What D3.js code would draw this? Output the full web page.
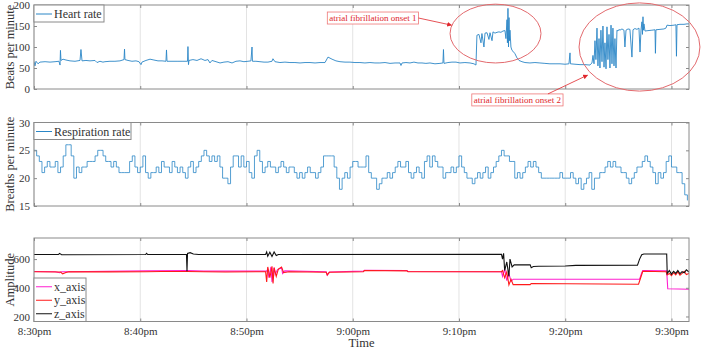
<!DOCTYPE html>
<html><head><meta charset="utf-8">
<script src="https://cdn.jsdelivr.net/npm/d3@7"></script>
<style>body{margin:0;background:#fff}svg{display:block;font-family:"Liberation Serif","Times New Roman",serif}</style>
</head><body><svg id="c" width="708" height="350"></svg>
<script>
// ---------- DATA (time = minutes after 8:30pm) ----------
const xTickMinutes = [0, 10, 20, 30, 40, 50, 60];
const xTickLabels = ["8:30pm", "8:40pm", "8:50pm", "9:00pm", "9:10pm", "9:20pm", "9:30pm"];
const timeEnd = 61.65;

const hrTicks = [0, 50, 100, 150, 200];
const respTicks = [15, 20, 25, 30];
const accTicks = [200, 400, 600];

const heartRate = [
 [0.00,65],[0.09,55],[0.19,66],[0.38,60],[0.56,64],[1.04,65],[1.51,64],[1.98,65],[2.35,66],[2.45,57],[2.49,92],[2.54,68],
 [2.73,71],[3.01,69],[3.39,67],[3.86,66],[4.33,68],[4.42,94],[4.52,67],[4.89,68],[5.27,67],[5.74,68],[5.93,63],[6.21,66],
 [6.49,64],[6.68,65],[7.15,66],[7.62,66],[8.09,67],[8.47,70],[8.52,95],[8.56,70],[8.85,68],[9.22,66],[9.60,67],[9.88,65],
 [10.07,58],[10.16,64],[10.54,68],[10.92,71],[11.29,69],[11.67,67],[12.05,67],[12.42,66],[12.47,93],[12.52,66],[12.99,66],
 [13.55,66],[14.02,66],[14.45,66],[14.49,101],[14.54,58],[14.59,68],[14.96,70],[15.34,68],[15.72,72],[16.09,68],[16.38,70],
 [16.56,62],[16.75,68],[17.13,65],[17.51,62],[17.88,64],[18.26,65],[18.64,62],[19.01,66],[19.39,67],[19.76,65],[20.14,66],
 [20.42,67],[20.52,100],[20.56,66],[20.89,66],[21.27,65],[21.65,64],[22.02,64],[22.40,66],[22.49,72],[22.68,65],[23.15,63],
 [23.62,64],[24.09,63],[24.56,63],[25.04,62],[25.51,63],[25.98,63],[26.45,62],[26.92,63],[27.39,63],[27.67,76],[28.05,71],
 [28.42,67],[28.80,65],[29.27,64],[29.74,64],[30.21,63],[30.68,63],[31.15,62],[31.62,63],[32.09,62],[32.56,62],[33.04,63],
 [33.51,61],[33.98,62],[34.45,62],[34.54,56],[34.64,62],[35.01,63],[35.39,62],[35.76,64],[36.14,62],[36.52,62],[36.89,61],
 [37.27,62],[37.74,60],[38.21,61],[38.49,62],[38.54,94],[38.59,61],[38.96,63],[39.34,64],[39.72,64],[40.09,62],[40.56,63],
 [41.04,62],[41.41,60],[41.60,57],[41.69,128],[41.88,130],[42.07,110],[42.16,132],[42.35,100],[42.45,133],[42.64,134],
 [42.82,118],[42.92,134],[43.11,115],[43.20,136],[43.39,133],[43.58,135],[43.76,136],[43.95,135],[44.14,138],[44.33,139],
 [44.42,120],[44.52,165],[44.56,110],[44.61,192],[44.66,100],[44.71,170],[44.75,115],[44.80,140],[44.89,100],[44.99,92],
 [45.08,90],[45.27,84],[45.46,74],[45.65,68],[45.93,65],[46.21,63],[46.68,62],[47.15,63],[47.62,62],[48.09,61],[48.56,60],
 [49.04,60],[49.51,60],[49.98,59],[50.35,60],[50.45,86],[50.49,60],[50.92,59],[51.39,58],[51.86,58],[52.33,57],[52.42,60],
 [52.52,62],[52.61,80],[52.71,60],[52.80,115],[52.89,70],[52.99,145],[53.08,55],[53.18,120],[53.27,50],[53.36,140],[53.46,65],
 [53.55,150],[53.65,52],[53.74,110],[53.84,48],[53.93,148],[54.02,70],[54.12,130],[54.21,50],[54.31,152],[54.40,60],[54.49,145],
 [54.59,55],[54.68,120],[54.78,50],[54.87,140],[54.96,138],[55.06,142],[55.15,140],[55.34,143],[55.53,140],[55.62,100],
 [55.72,140],[55.91,143],[56.09,142],[56.28,76],[56.38,141],[56.56,144],[56.75,142],[56.94,145],[57.04,88],[57.13,140],
 [57.22,160],[57.27,130],[57.32,172],[57.36,140],[57.41,155],[57.51,138],[57.79,139],[58.16,140],[58.45,141],[58.49,85],
 [58.54,141],[58.92,142],[59.29,143],[59.48,145],[59.58,152],[59.86,151],[60.24,152],[60.42,153],[60.47,78],[60.52,153],
 [60.80,154],[61.18,154],[61.46,155],[61.65,155]
];

const respStep = 0.25; // minutes between respiration samples
const respRate = [
 25,24,23,21,22,23,22,22,23,21,22,24,26,26,24,20,22,21,22,22,
 23,23,23,24,25,25,24,23,23,22,23,22,21,21,21,21,23,24,22,21,
 22,24,21,20,21,21,22,21,23,22,22,21,23,22,21,22,21,20,22,23,
 21,22,23,24,25,24,23,24,23,24,22,20,20,19,22,24,24,22,24,22,
 23,21,20,24,25,23,21,22,23,22,22,21,22,23,22,21,22,22,21,20,
 21,20,21,22,21,21,20,21,22,24,24,24,24,22,20,18,20,21,20,22,
 23,23,22,22,22,24,21,20,20,18,19,20,20,21,20,21,22,23,22,22,
 23,21,20,21,22,21,20,23,24,22,24,23,22,22,20,21,21,22,21,22,
 24,22,21,20,20,19,20,21,20,21,22,20,21,22,23,24,25,24,24,23,
 23,20,21,20,21,22,23,22,23,22,21,20,20,20,20,20,20,20,21,20,
 20,20,21,20,19,20,18,19,20,21,18,20,20,21,21,22,23,22,23,22,
 22,21,21,20,19,20,21,22,22,23,24,23,22,21,19,21,20,21,23,24,
 22,22,21,21,19,17,16
];

const accX = [
 [0,514],[2.0,512],[2.4,505],[2.6,512],[5,513],[10.6,518],[14.4,520],[16,516],[21.9,516],[22.0,530],[22.1,470],[22.3,545],
 [22.4,440],[22.6,540],[22.7,495],[22.9,525],[23.3,540],[23.4,500],[23.6,518],[27.5,512],[27.6,488],[27.8,510],[31,516],
 [31.1,522],[35.1,520],[35.2,514],[44.0,512],[44.1,480],[44.3,530],[44.5,450],[44.7,500],[44.9,445],[45.1,460],[57.0,460],
 [57.2,505],[57.3,520],[59.55,518],[59.65,393],[61.65,390]
];
const accY = [
 [0,512],[2.5,510],[2.7,497],[3.0,506],[3.3,512],[7,511],[10.5,512],[12,514],[14.4,513],[16,512],[18,510],[21.8,512],
 [21.9,440],[22.0,545],[22.2,470],[22.4,550],[22.5,430],[22.6,540],[22.8,480],[23.0,530],[23.3,545],[23.5,505],[24.0,512],
 [27.5,508],[27.6,490],[27.8,508],[31.0,512],[31.1,520],[35.1,518],[35.2,512],[44.0,512],[44.1,520],[44.3,470],[44.5,510],
 [44.7,420],[44.9,460],[45.1,422],[46.7,422],[46.8,430],[56.9,425],[57.1,470],[57.3,515],[59.5,512],[59.6,490],[59.8,500],
 [60.0,485],[60.2,505],[60.4,490],[60.6,510],[60.8,488],[61.0,500],[61.2,515],[61.4,492],[61.65,500]
];
const accZ = [
 [0,632],[2.3,632],[2.4,640],[2.6,630],[10.5,632],[10.6,640],[10.7,632],[14.35,632],[14.4,515],[14.45,640],[14.7,645],
 [15.0,636],[15.5,632],[21.8,632],[21.9,650],[22.0,620],[22.2,648],[22.4,618],[22.6,650],[22.8,625],[23.0,632],[44.0,633],
 [44.1,600],[44.2,640],[44.3,520],[44.5,580],[44.7,480],[44.8,600],[45.0,545],[45.2,560],[46.7,560],[46.8,540],[47.0,548],
 [47.5,550],[50,552],[51,556],[56.8,557],[57.0,600],[57.2,630],[57.4,635],[59.55,635],[59.6,500],[59.8,520],[60.0,495],
 [60.2,515],[60.4,500],[60.6,520],[60.8,498],[61.0,512],[61.2,505],[61.4,525],[61.65,510]
];

const afNotes = [
 {text: "atrial fibrillation onset 1", t: 31.9, v: 169, ex: 43.44, ev: 132, erx: 4.28, erv: 70, at: 39.3, av: 152, side: "right"},
 {text: "atrial fibrillation onset 2", t: 45.5, v: -26, ex: 56.99, ev: 100, erx: 5.69, erv: 105, at: 52.1, av: 33, side: "top"}
];

// ---------- LAYOUT ----------
const svg = d3.select("#c");
const L = 34, R = 689;
const x = d3.scaleLinear().domain([0, timeEnd]).range([L, R]);
const boxColor = "#8a8a8a", textColor = "#333";
const blue = "#2a86c6";

const panels = [
 {top: 5, bottom: 89, domain: [0, 200], ticks: hrTicks, label: "Beats per minute"},
 {top: 122.5, bottom: 206, domain: [15, 30], ticks: respTicks, label: "Breaths per minute"},
 {top: 238, bottom: 321.5, domain: [165, 747], ticks: accTicks, label: "Amplitude"}
];

const defs = svg.append("defs");
panels.forEach((p, i) => {
  p.y = d3.scaleLinear().domain(p.domain).range([p.bottom, p.top]);
  defs.append("clipPath").attr("id", "clip" + i).append("rect")
    .attr("x", L).attr("y", p.top).attr("width", R - L).attr("height", p.bottom - p.top);
  const g = svg.append("g");
  p.g = g;
  // grid
  g.selectAll(".grid").data(xTickMinutes).join("line")
    .attr("x1", d => x(d)).attr("x2", d => x(d)).attr("y1", p.top).attr("y2", p.bottom)
    .attr("stroke", "#e3e3e3").attr("stroke-width", 1);
});

function styleAxis(sel, showText) {
  sel.select(".domain").remove();
  sel.selectAll(".tick line").attr("stroke", boxColor).attr("stroke-width", 1);
  sel.selectAll(".tick text").attr("fill", textColor).style("font-size", "11px")
    .style("font-family", '"Liberation Serif", serif');
  if (!showText) sel.selectAll(".tick text").remove();
}

// ---------- DATA LINES ----------
const p0 = panels[0], p1 = panels[1], p2 = panels[2];
p0.g.append("path").datum(heartRate).attr("clip-path", "url(#clip0)")
  .attr("d", d3.line().x(d => x(d[0])).y(d => p0.y(d[1])))
  .attr("fill", "none").attr("stroke", blue).attr("stroke-width", 0.9);

p1.g.append("path").datum(respRate).attr("clip-path", "url(#clip1)")
  .attr("d", d3.line().curve(d3.curveStepAfter).x((d, i) => x(i * respStep)).y(d => p1.y(d)))
  .attr("fill", "none").attr("stroke", blue).attr("stroke-width", 0.8);

const accSeries = [
 {name: "x_axis", data: accX, color: "#ff1fd0"},
 {name: "y_axis", data: accY, color: "#ff1a1a"},
 {name: "z_axis", data: accZ, color: "#111"}
];
accSeries.forEach(s => {
  p2.g.append("path").datum(s.data).attr("clip-path", "url(#clip2)")
    .attr("d", d3.line().x(d => x(d[0])).y(d => p2.y(d[1])))
    .attr("fill", "none").attr("stroke", s.color).attr("stroke-width", 1.1);
});

// ---------- AXES & BOXES ----------
panels.forEach((p, i) => {
  const last = i === panels.length - 1;
  p.g.append("g").attr("transform", `translate(${L},0)`)
    .call(d3.axisLeft(p.y).tickValues(p.ticks).tickSize(-3).tickPadding(4)).call(s => styleAxis(s, true));
  p.g.append("g").attr("transform", `translate(${R},0)`)
    .call(d3.axisRight(p.y).tickValues(p.ticks).tickSize(-3)).call(s => styleAxis(s, false));
  p.g.append("g").attr("transform", `translate(0,${p.top})`)
    .call(d3.axisTop(x).tickValues(xTickMinutes).tickSize(-3)).call(s => styleAxis(s, false));
  p.g.append("g").attr("transform", `translate(0,${p.bottom})`)
    .call(d3.axisBottom(x).tickValues(xTickMinutes).tickFormat((d, k) => xTickLabels[k]).tickSize(-3).tickPadding(6))
    .call(s => styleAxis(s, last));
  p.g.append("rect").attr("x", L).attr("y", p.top).attr("width", R - L).attr("height", p.bottom - p.top)
    .attr("fill", "none").attr("stroke", boxColor).attr("stroke-width", 1);
  svg.append("text").attr("transform", `translate(14,${(p.top + p.bottom) / 2}) rotate(-90)`)
    .attr("text-anchor", "middle").attr("fill", textColor).style("font-size", "12.5px").text(p.label);
});
svg.append("text").attr("x", (L + R) / 2).attr("y", 347).attr("text-anchor", "middle")
  .attr("fill", textColor).style("font-size", "12.5px").text("Time");

// ---------- LEGENDS ----------
function legend(p, items, w, rowH, yStart, anchorBottom) {
  const h = items.length * rowH + 3;
  const top = anchorBottom ? p.bottom - h : p.top;
  const g = svg.append("g");
  g.append("rect").attr("x", L).attr("y", top).attr("width", w).attr("height", h)
    .attr("fill", "#fff").attr("stroke", boxColor).attr("stroke-width", 1);
  items.forEach((it, k) => {
    const cy = top + 2 + rowH * (k + 0.5);
    g.append("line").attr("x1", L + 2).attr("x2", L + 18).attr("y1", cy).attr("y2", cy)
      .attr("stroke", it.color).attr("stroke-width", 1);
    g.append("text").attr("x", L + 20).attr("y", cy + 4).attr("fill", textColor)
      .style("font-size", "12px").text(it.name);
  });
}
legend(p0, [{name: "Heart rate", color: blue}], 70, 14, 0, false);
legend(p1, [{name: "Respiration rate", color: blue}], 97, 14, 0, false);
legend(p2, accSeries.map(s => ({name: s.name, color: s.color})), 52, 13.5, 0, true);

// ---------- ANNOTATIONS ----------
const noteRed = "#e0262b";
defs.append("marker").attr("id", "arr").attr("viewBox", "0 0 10 10").attr("refX", 9).attr("refY", 5)
  .attr("markerWidth", 6).attr("markerHeight", 6).attr("orient", "auto")
  .append("path").attr("d", "M0,0L10,5L0,10z").attr("fill", noteRed);
const ag = svg.append("g");
afNotes.forEach(n => {
  const cx = x(n.ex), cy = p0.y(n.ev);
  ag.append("ellipse").attr("cx", cx).attr("cy", cy)
    .attr("rx", x(n.ex + n.erx) - cx).attr("ry", p0.y(n.ev - n.erv) - cy)
    .attr("fill", "none").attr("stroke", "#e36a6e").attr("stroke-width", 1);
  const tx = x(n.t), ty = p0.y(n.v);
  const t = ag.append("text").attr("x", tx).attr("y", ty + 3).attr("text-anchor", "middle")
    .attr("fill", noteRed).style("font-size", "9px").text(n.text);
  const bb = t.node().getBBox();
  ag.insert("rect", "text").attr("x", bb.x - 2).attr("y", bb.y - 1).attr("width", bb.width + 4).attr("height", bb.height + 2)
    .attr("fill", "#fff").attr("stroke", "#e77").attr("stroke-width", 0.8);
  const sx = n.side === "right" ? bb.x + bb.width + 2 : bb.x + bb.width * 0.85;
  const sy = n.side === "right" ? bb.y + bb.height / 2 : bb.y - 1;
  ag.append("line").attr("x1", sx).attr("y1", sy).attr("x2", x(n.at)).attr("y2", p0.y(n.av))
    .attr("stroke", noteRed).attr("stroke-width", 0.8).attr("marker-end", "url(#arr)");
});
</script></body></html>
